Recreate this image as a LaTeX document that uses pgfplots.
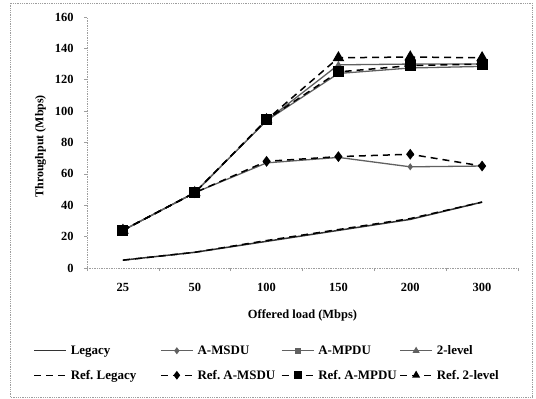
\documentclass[border=0pt]{standalone}
\usepackage{fontspec}
\setmainfont{Liberation Serif}
\usepackage{pgfplots}
\pgfplotsset{compat=1.18}
\definecolor{sgray}{gray}{0.38}
\definecolor{fgray}{gray}{0.62}
\begin{document}
\begin{tikzpicture}
\useasboundingbox (0bp,0bp) rectangle (536bp,399bp);
\draw[fgray, densely dotted, line width=0.8bp] (10bp,2bp) rectangle (532bp,396bp);
\begin{axis}[
  at={(87bp,131bp)}, anchor=south west,
  scale only axis, width=431bp, height=251bp,
  xmin=-0.5, xmax=5.5, ymin=0, ymax=160,
  axis x line*=bottom, axis y line*=left,
  axis line style={fgray, densely dotted, line width=0.7bp},
  xtick={0,1,2,3,4,5},
  xticklabels={25,50,100,150,200,300},
  major x tick style={draw=none},
  minor xtick={-0.5,0.5,1.5,2.5,3.5,4.5,5.5},
  minor x tick style={fgray, line width=0.6bp},
  minor tick length=3bp,
  ytick={0,20,...,160},
  y tick style={fgray, line width=0.6bp},
  major tick length=3bp,
  tick align=outside,
  tick label style={font=\fontsize{12.5}{14}\selectfont\bfseries},
  /pgf/number format/assume math mode=true,
  xticklabel style={yshift=-8.5bp},
  yticklabel style={xshift=-7bp},
  xlabel={Offered load (Mbps)},
  ylabel={Throughput (Mbps)},
  xlabel style={font=\fontsize{12.5}{14}\selectfont\bfseries, at={(axis description cs:0.5,-0.19)}, anchor=center},
  ylabel style={font=\fontsize{12}{14}\selectfont\bfseries, at={(axis description cs:-0.108,0.485)}, anchor=center},
  legend columns=4,
  legend cell align=left,
  legend style={draw=none, fill=none, inner sep=0pt,
    at={(axis description cs:-0.125,-0.300)}, anchor=north west,
    font=\fontsize{13}{15}\selectfont\bfseries,
    /tikz/every odd column/.append style={column sep=2bp},
    /tikz/every even column/.append style={column sep=0bp},
    row sep=10bp},
  legend image code/.code={
    \draw[mark repeat=2, mark phase=2, #1] plot coordinates {(0bp,0bp) (16bp,0bp) (32bp,0bp)};
  },
  every axis plot/.append style={line width=1.3bp},
  solline/.style={sgray, solid},
  refline/.style={black, line width=1.5bp, dash pattern=on 7bp off 5bp, legend image post style={mark size=3.2bp}},
]
% Legacy
\addplot[solline, mark=none, black!80, line width=1.5bp] coordinates {(0,5) (1,10) (2,17) (3,24) (4,31) (5,42)};
\addlegendentry{\makebox[87.3bp][l]{Legacy}}
% A-MSDU
\addplot[solline, mark=diamond*, mark size=2.5bp, mark options={solid, fill=sgray, draw=sgray}] coordinates {(0,24) (1,48) (2,67) (3,70.5) (4,64.5) (5,65)};
\addlegendentry{\makebox[81.3bp][l]{A-MSDU}}
% A-MPDU
\addplot[solline, mark=square*, mark size=2.3bp, mark options={solid, fill=sgray, draw=sgray}] coordinates {(0,24) (1,48) (2,94) (3,124) (4,127.5) (5,128.5)};
\addlegendentry{\makebox[79bp][l]{A-MPDU}}
% 2-level
\addplot[solline, mark=triangle*, mark size=2.8bp, mark options={solid, fill=sgray, draw=sgray}] coordinates {(0,24) (1,48) (2,94) (3,129.5) (4,130) (5,130)};
\addlegendentry{2-level}
% Ref Legacy
\addplot[refline, mark=none] coordinates {(0,5) (1,10) (2,17.5) (3,24.5) (4,31.5) (5,42)};
\addlegendentry{Ref.\ Legacy}
% Ref A-MSDU
\addplot[refline, mark=diamond*, mark size=4.2bp, mark options={solid, fill=black}] coordinates {(0,24) (1,48) (2,68) (3,71) (4,72.5) (5,65)};
\addlegendentry{Ref.\ A-MSDU}
% Ref A-MPDU
\addplot[refline, mark=square*, mark size=4.8bp, mark options={solid, fill=black}] coordinates {(0,24) (1,48) (2,94.5) (3,125) (4,129) (5,130)};
\addlegendentry{Ref.\ A-MPDU}
% Ref 2-level
\addplot[refline, mark=triangle*, mark size=5.3bp, mark options={solid, fill=black}] coordinates {(0,24) (1,48) (2,94.5) (3,134) (4,134.5) (5,134)};
\addlegendentry{Ref.\ 2-level}
% Ref A-MPDU squares shown on top where the points coincide
\addplot[forget plot, only marks, mark=square*, mark size=4.8bp, mark options={solid, fill=black}, black] coordinates {(0,24) (1,48) (2,94.5)};
\end{axis}
\end{tikzpicture}
\end{document}
